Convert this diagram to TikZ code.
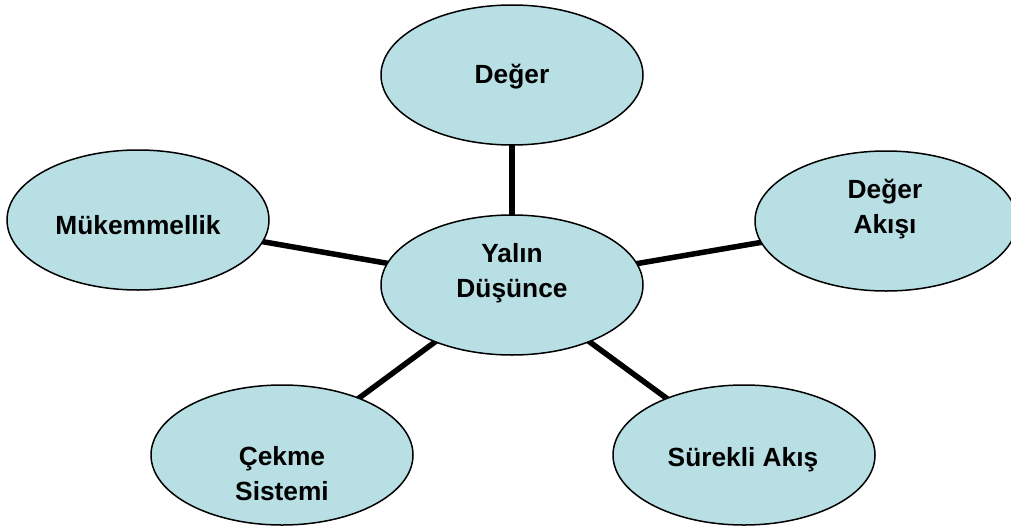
\documentclass[tikz,border=0pt]{standalone}
\usepackage{fontspec}
\setmainfont{Liberation Sans}
\usetikzlibrary{shapes.geometric}
\definecolor{bubble}{RGB}{183,223,228}
\tikzset{
  bubble/.style={ellipse, draw=black, line width=1.5pt, fill=bubble,
    minimum width=262pt, minimum height=140pt, inner sep=0pt},
  caption/.style={font=\fontsize{26.3}{35}\selectfont\bfseries, align=center, inner sep=0pt},
  spoke/.style={line width=5.5pt, black}
}
\begin{document}
\begin{tikzpicture}[x=1pt, y=-1pt]
  \useasboundingbox (0,0) rectangle (1011,527);
  \clip (0,0) rectangle (1011,527);
  % spokes first, so the bubbles sit over their ends
  \coordinate (cC) at (512,285);
  \coordinate (cT) at (512,75);
  \coordinate (cL) at (138,220);
  \coordinate (cR) at (886,221);
  \coordinate (cBL) at (282,455);
  \coordinate (cBR) at (744,455);
  \draw[spoke] (cC) -- (cT);
  \draw[spoke] (cC) -- (cL);
  \draw[spoke] (cC) -- (cR);
  \draw[spoke] (cC) -- (cBL);
  \draw[spoke] (cC) -- (cBR);
  % bubbles
  \node[bubble] (center) at (cC) {};
  \node[bubble] (value) at (cT) {};
  \node[bubble] (perfection) at (cL) {};
  \node[bubble] (valuestream) at (cR) {};
  \node[bubble] (pull) at (cBL) {};
  \node[bubble] (flow) at (cBR) {};
  % captions
  \node[caption] (centerText) at (512,273) {Yalın\\Düşünce};
  \node[caption] (valueText) at (512,77) {Değer};
  \node[caption] (perfectionText) at (138,225) {Mükemmellik};
  \node[caption] (valuestreamText) at (885,209) {Değer\\Akışı};
  \node[caption] (pullText) at (282,474) {Çekme\\Sistemi};
  \node[caption] (flowText) at (743,460) {Sürekli Akış};
\end{tikzpicture}
\end{document}
